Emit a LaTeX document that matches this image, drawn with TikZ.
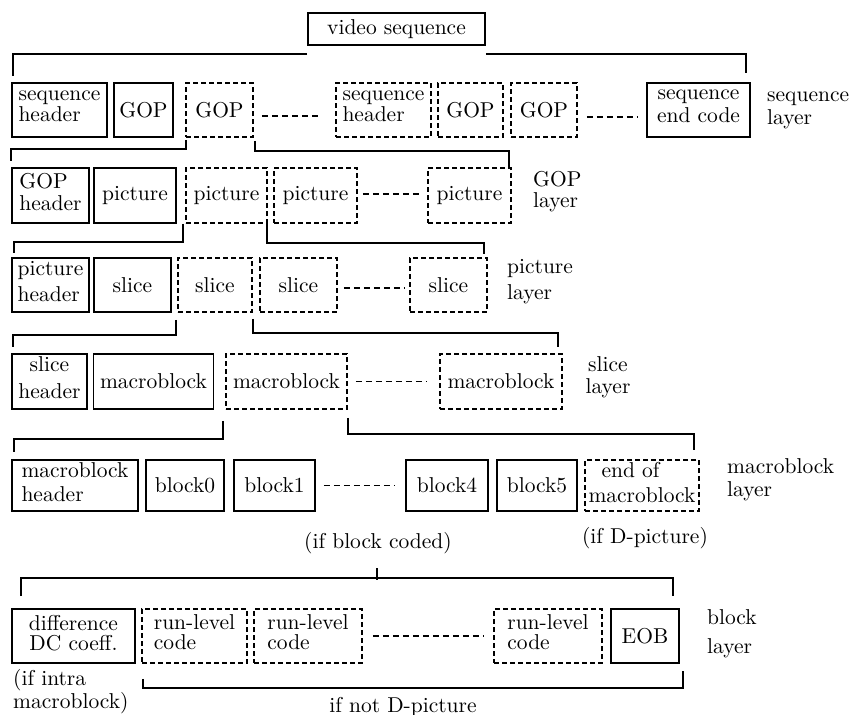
\documentclass[tikz,border=0pt]{standalone}
\usepackage{fontspec}
\setmainfont{lmroman10-regular.otf}
\begin{document}
\begin{tikzpicture}[x=1pt,y=-1pt,
  every node/.style={font=\fontsize{21.5}{22}\selectfont, inner sep=1pt},
  bs/.style={font=\fontsize{21.5}{#1}\selectfont},
  sz/.style 2 args={minimum width=#1pt, minimum height=#2pt},
  solidbox/.style={draw, rectangle, line width=1.8pt},
  dashbox/.style={draw, rectangle, line width=1.5pt, dash pattern=on 5pt off 3pt},
  twoline/.style={execute at begin node={\rule{0pt}{17pt}},
                  execute at end node={\rule[-7pt]{0pt}{7pt}}},
  lbl/.style={anchor=west, inner sep=0pt, twoline, align=left},
  link/.style={line width=1.6pt},
  dashline/.style={line width=1.4pt, dash pattern=on 6pt off 4pt}]
\useasboundingbox (0,0) rectangle (852,715);

% top of the hierarchy
\node[solidbox, sz={177}{32}] (vs) at (396.5,29) {video sequence};

% sequence layer
\node[solidbox, twoline, align=left, bs=21, sz={95}{54}] (r1a) at (59.5,110) {sequence\\header};
\node[solidbox, sz={59}{54}] (r1b) at (143.5,110) {GOP};
\node[dashbox, sz={67}{54}] (r1c) at (219.5,110) {GOP};
\node[dashbox, twoline, align=left, bs=21, sz={95}{54}] (r1d) at (383.5,110) {sequence\\header};
\node[dashbox, sz={65}{54}] (r1e) at (470.5,110) {GOP};
\node[dashbox, sz={66}{54}] (r1f) at (544,110) {GOP};
\node[solidbox, twoline, align=center, bs=23, sz={103}{54}] (r1g) at (698.5,110) {sequence\\end code};
\node[lbl, bs=23] (L1) at (767,111.5) {sequence\\layer};

% GOP layer
\node[solidbox, twoline, align=left, bs=22, sz={77}{55}] (r2a) at (50.5,195.5) {GOP\\header};
\node[solidbox, sz={82}{55}] (r2b) at (135,195.5) {picture};
\node[dashbox, sz={81}{55}] (r2c) at (226.5,195.5) {picture};
\node[dashbox, sz={83}{55}] (r2d) at (315.5,195.5) {picture};
\node[dashbox, sz={83}{55}] (r2e) at (469.5,195.5) {picture};
\node[lbl, bs=21] (L2) at (533,192.5) {GOP\\layer};

% picture layer
\node[solidbox, twoline, align=left, bs=26, sz={77}{54}] (r3a) at (50.5,285) {picture\\header};
\node[solidbox, sz={77}{54}] (r3b) at (132.5,285) {slice};
\node[dashbox, sz={74}{54}] (r3c) at (215,285) {slice};
\node[dashbox, sz={77}{54}] (r3d) at (298.5,285) {slice};
\node[dashbox, sz={77}{54}] (r3e) at (448.5,285) {slice};
\node[lbl, bs=26] (L3) at (507,283) {picture\\layer};

% slice layer
\node[solidbox, twoline, align=center, bs=27, sz={75}{55}] (r4a) at (49.5,381.5) {slice\\header};
\node[solidbox, sz={120}{55}] (r4b) at (153.5,381.5) {macroblock};
\node[dashbox, sz={121}{55}] (r4c) at (286.5,381.5) {macroblock};
\node[dashbox, sz={122}{55}] (r4d) at (501,381.5) {macroblock};
\node[inner sep=0pt, twoline, align=center, bs=22] (L4) at (608,379) {slice\\layer};

% macroblock layer
\node[solidbox, twoline, align=left, bs=24, sz={126}{51}] (r5a) at (75,485.5) {macroblock\\header};
\node[solidbox, sz={78}{51}] (r5b) at (185,485.5) {block0};
\node[solidbox, sz={81}{51}] (r5c) at (274.5,485.5) {block1};
\node[solidbox, sz={82}{51}] (r5d) at (447,485.5) {block4};
\node[solidbox, sz={80}{51}] (r5e) at (537,485.5) {block5};
\node[dashbox, twoline, align=left, bs=25, sz={114}{51}] (r5f) at (642,485.5) {\hspace*{13pt}end of\\macroblock};
\node[lbl, bs=23] (L5) at (727,481.5) {macroblock\\layer};
\node[anchor=base, inner sep=0pt] (c1) at (378,548) {(if block coded)};
\node[anchor=base, inner sep=0pt] (c2) at (645,543) {(if D-picture)};

% block layer
\node[solidbox, twoline, align=center, bs=20, sz={123}{54}] (r6a) at (73.5,636) {difference\\DC coeff.};
\node[dashbox, twoline, align=left, bs=20, sz={105}{54}] (r6b) at (194.5,636) {run-level\\code};
\node[dashbox, twoline, align=left, bs=20, sz={108}{54}] (r6c) at (308,636) {run-level\\code};
\node[dashbox, twoline, align=left, bs=20, sz={108}{54}] (r6d) at (548,636) {run-level\\code};
\node[solidbox, sz={68}{54}] (r6e) at (645,636) {EOB};
\node[lbl, bs=29] (L6) at (707,635.5) {block\\layer};
\node[lbl, bs=21] (c3) at (13,692.5) {(if intra\\macroblock)};
\node[anchor=base, inner sep=0pt] (c4) at (403,712) {if not D-picture};

% brackets expanding one element into the layer below
\draw[link] ([yshift=-8pt]vs.south west) -| ([xshift=2pt,yshift=6pt]r1a.north west);
\draw[link] ([yshift=-8pt]vs.south east) -| ([xshift=-5pt,yshift=9pt]r1g.north east);

\draw[link] ([xshift=1pt,yshift=-2pt]r1c.south west) -- ++(0,9) -| ([yshift=6pt]r2a.north west);
\draw[link] ([xshift=1pt,yshift=-3pt]r1c.south east) -- ++(0,10) -| ([xshift=-3pt]r2e.north east);

\draw[link] ([xshift=-2pt]r2c.south west) -- ++(0,18) -| ([xshift=3pt,yshift=4pt]r3a.north west);
\draw[link] ([xshift=-1pt]r2c.south east) -- ++(0,19) -| ([xshift=-4pt,yshift=3pt]r3e.north east);

\draw[link] ([xshift=-1pt,yshift=-7pt]r3c.south west) -- ++(0,15) -| ([xshift=2pt,yshift=6pt]r4a.north west);
\draw[link] ([yshift=-6pt]r3c.south east) -- ++(0,14) -| ([xshift=-5pt,yshift=6pt]r4d.north east);

\draw[link] ([xshift=-2pt,yshift=-11pt]r4c.south west) -- ++(0,18) -| ([xshift=3pt,yshift=7pt]r5a.north west);
\draw[link] ([yshift=-8pt]r4c.south east) -- ++(0,16) -| ([xshift=-6pt,yshift=9pt]r5f.north east);

\draw[link] ([xshift=10pt,yshift=12pt]r6a.north west) -- ++(0,-18) -| ([xshift=-7pt,yshift=12pt]r6e.north east);
\coordinate (tk) at (377,568);
\draw[link] (tk) -- ++(0,12);

\draw[link] ([xshift=2pt,yshift=-15pt]r6b.south west) -- ++(0,9) -| ([xshift=3pt,yshift=-7pt]r6e.south east);

% repetition marks between elements
\draw[dashline] ([xshift=8pt,yshift=-6pt]r1c.east) -- ([xshift=-14pt,yshift=-6pt]r1d.west);
\draw[dashline] ([xshift=9pt,yshift=-7pt]r1f.east) -- ([xshift=-9pt,yshift=-7pt]r1g.west);
\draw[dashline] ([xshift=5pt,yshift=1.5pt]r2d.east) -- ([xshift=-6pt,yshift=1.5pt]r2e.west);
\draw[dashline] ([xshift=6pt,yshift=-3pt]r3d.east) -- ([xshift=-5pt,yshift=-3pt]r3e.west);
\draw[dashline] ([xshift=8pt]r4c.east) -- ([xshift=-13pt]r4d.west);
\draw[dashline] ([xshift=8pt]r5c.east) -- ([xshift=-10pt]r5d.west);
\draw[dashline] ([xshift=10pt]r6c.east) -- ([xshift=-9pt]r6d.west);
\end{tikzpicture}
\end{document}
